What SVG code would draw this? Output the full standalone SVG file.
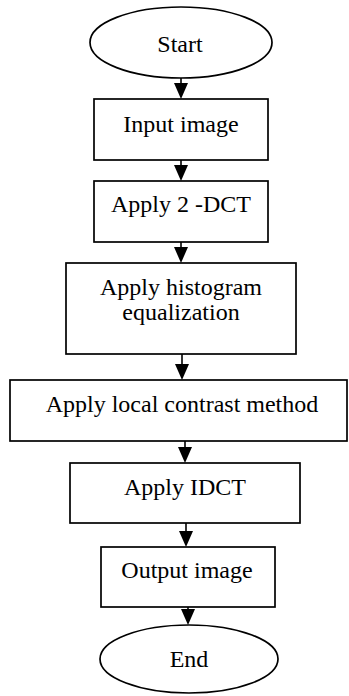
<svg xmlns="http://www.w3.org/2000/svg" width="349" height="696" viewBox="0 0 349 696">
<style>
.s{fill:#fff;stroke:#000;stroke-width:1.7}
.t{font-family:"Liberation Serif","Times New Roman",serif;font-size:24px;fill:#000;text-anchor:middle}
.c{stroke:#000;stroke-width:1.6;fill:none}
.a{fill:#000}
</style>
<rect width="349" height="696" fill="#fff"/>
<g id="start"><ellipse class="s" cx="181" cy="42.5" rx="91" ry="35.5"/><text class="t" x="180" y="52">Start</text></g>
<g id="input"><rect class="s" x="94" y="99" width="174" height="61"/><text class="t" x="181" y="132">Input image</text></g>
<g id="dct"><rect class="s" x="94" y="181" width="174" height="61"/><text class="t" x="181" y="212">Apply 2 -DCT</text></g>
<g id="hist"><rect class="s" x="66" y="263" width="230" height="91"/><text class="t" x="181" y="295">Apply histogram</text><text class="t" x="181" y="320">equalization</text></g>
<g id="local"><rect class="s" x="10" y="380" width="337" height="61"/><text class="t" x="182" y="412">Apply local contrast method</text></g>
<g id="idct"><rect class="s" x="70" y="463" width="230" height="60"/><text class="t" x="185" y="495">Apply IDCT</text></g>
<g id="output"><rect class="s" x="101" y="547" width="174" height="60"/><text class="t" x="187" y="578">Output image</text></g>
<g id="end"><ellipse class="s" cx="189" cy="659" rx="89" ry="34"/><text class="t" x="189" y="667">End</text></g>
<g id="connectors">
<path d="M181 78 V83" class="c"/><polygon class="a" points="174,83 188,83 181,99"/>
<path d="M181 160 V165" class="c"/><polygon class="a" points="174,165 188,165 181,181"/>
<path d="M181 242 V247" class="c"/><polygon class="a" points="174,247 188,247 181,263"/>
<path d="M182 354 V364" class="c"/><polygon class="a" points="175,364 189,364 182,380"/>
<path d="M185 441 V447" class="c"/><polygon class="a" points="178,447 192,447 185,463"/>
<path d="M186 523 V531" class="c"/><polygon class="a" points="179,531 193,531 186,547"/>
<path d="M188 607 V609" class="c"/><polygon class="a" points="181,609 195,609 188,625"/>
</g>
</svg>
